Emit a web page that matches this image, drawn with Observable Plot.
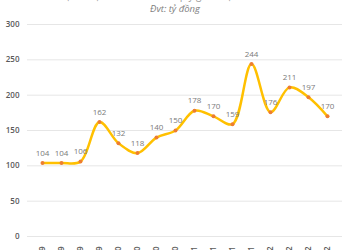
<!DOCTYPE html>
<html><head><meta charset="utf-8">
<script src="https://cdn.jsdelivr.net/npm/d3@7"></script>
<script src="https://cdn.jsdelivr.net/npm/@observablehq/plot@0.6"></script>
<style>
body{margin:0;background:#fff;font-family:"Open Sans",sans-serif;}
#wrap{position:relative;width:350px;height:250px;overflow:hidden;}
#title{position:absolute;top:-12px;left:0;width:350px;line-height:14px;text-align:center;font-size:10px;color:#9a9a9a;}
#sub{position:absolute;top:3px;left:0;width:350px;line-height:12px;text-align:center;font-size:9.5px;font-style:italic;color:#7f7f7f;}
#chart{position:absolute;top:0;left:0;}
</style></head>
<body><div id="wrap"><div id="chart"></div><div id="title">Lợi nhuận sau thuế theo quý giai đoạn 2019-2022</div><div id="sub">Đvt: tỷ đồng</div></div>
<script>
const quarters = ["Q1/2019","Q2/2019","Q3/2019","Q4/2019","Q1/2020","Q2/2020","Q3/2020","Q4/2020","Q1/2021","Q2/2021","Q3/2021","Q4/2021","Q1/2022","Q2/2022","Q3/2022","Q4/2022"];
const values = [104,104,106,162,132,118,140,150,178,170,159,244,176,211,197,170];
const yTicks = [0,50,100,150,200,250,300];
const data = quarters.map((q,i)=>({q, v: values[i]}));
const plot = Plot.plot({
  width: 350, height: 250,
  marginTop: 24, marginBottom: 14, marginLeft: 27, marginRight: 8,
  style: {fontFamily: "Open Sans, sans-serif", fontSize: "8px", color: "#595959", background: "transparent"},
  x: {type: "point", domain: quarters, padding: 0.5, label: null},
  y: {domain: [0,300], label: null},
  marks: [
    Plot.gridY(yTicks, {stroke: "#e6e6e6", strokeOpacity: 1, strokeWidth: 1}),
    Plot.axisY(yTicks, {tickSize: 0, tickPadding: 8, fontWeight: "600", fill: "#595959", fontSize: 8}),
    Plot.axisX({tickSize: 0, tickPadding: 10, tickRotate: -90, fill: "#595959", fontWeight: "600", fontSize: 8}),
    Plot.line(data, {x: "q", y: "v", stroke: "#FFC000", strokeWidth: 2.5, curve: "catmull-rom"}),
    Plot.dot(data, {x: "q", y: "v", r: 2, fill: "#ED7D31", stroke: "none"}),
    Plot.text(data, {x: "q", y: "v", text: d => String(d.v), dy: -10, fill: "#7a7a7a", fontSize: 8})
  ]
});
document.getElementById("chart").appendChild(plot);
</script></body></html>
